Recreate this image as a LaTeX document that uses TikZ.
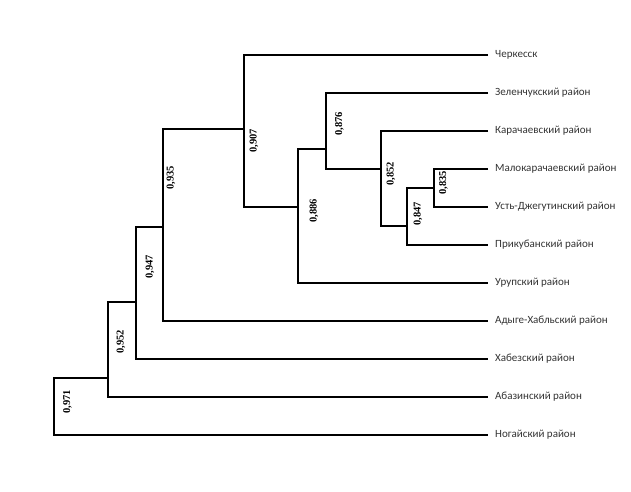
\documentclass[tikz,border=0pt]{standalone}
\usepackage{fontspec}
\setmainfont{Carlito}
\newfontfamily\labfont{Liberation Serif}
\begin{document}
\begin{tikzpicture}[x=1pt,y=-1pt,
  branch/.style={line width=1.4pt,black},
  leaf/.style={anchor=west,inner xsep=7pt,inner ysep=1pt,font=\fontsize{11}{13}\selectfont,text=black!80},
  sim/.style={rotate=90,inner sep=0pt,font=\labfont\bfseries\fontsize{10.5}{12}\selectfont}]
\useasboundingbox (0,0) rectangle (631,491);
% leaves
\node[leaf] (ch) at (488,55) {Черкесск};
\node[leaf] (ze) at (488,93) {Зеленчукский район};
\node[leaf] (ka) at (488,131) {Карачаевский район};
\node[leaf] (mk) at (488,169) {Малокарачаевский район};
\node[leaf] (ud) at (488,207) {Усть-Джегутинский район};
\node[leaf] (pr) at (488,245) {Прикубанский район};
\node[leaf] (ur) at (488,283) {Урупский район};
\node[leaf] (ad) at (488,321) {Адыге-Хабльский район};
\node[leaf] (kh) at (488,359) {Хабезский район};
\node[leaf] (ab) at (488,397) {Абазинский район};
\node[leaf] (no) at (488,435) {Ногайский район};
% internal join points
\coordinate (n835) at (434,188);
\coordinate (n847) at (407,226);
\coordinate (n852) at (381,169);
\coordinate (n876) at (326,149);
\coordinate (n886) at (298,207);
\coordinate (n907) at (244,129);
\coordinate (n935) at (163,227);
\coordinate (n947) at (136,302);
\coordinate (n952) at (108,378);
\coordinate (n971) at (54,435);
% branches
\draw[branch] (mk.west) -| (n835) |- (ud.west);
\draw[branch] (n835) -| (n847) |- (pr.west);
\draw[branch] (ka.west) -| (n852) |- (n847);
\draw[branch] (ze.west) -| (n876) |- (n852);
\draw[branch] (n876) -| (n886) |- (ur.west);
\draw[branch] (ch.west) -| (n907) |- (n886);
\draw[branch] (n907) -| (n935) |- (ad.west);
\draw[branch] (n935) -| (n947) |- (kh.west);
\draw[branch] (n947) -| (n952) |- (ab.west);
\draw[branch] (n952) -| (54,378) -- (n971) -- (no.west);
% similarity labels
\node[sim] (l835) at (443.5,183) {0,835};
\node[sim] (l847) at (418,214) {0,847};
\node[sim] (l852) at (391,174) {0,852};
\node[sim] (l876) at (339.5,124) {0,876};
\node[sim] (l886) at (314,211) {0,886};
\node[sim] (l907) at (254,141) {0,907};
\node[sim] (l935) at (171,178) {0,935};
\node[sim] (l947) at (150,267) {0,947};
\node[sim] (l952) at (121,342) {0,952};
\node[sim] (l971) at (67.5,402) {0,971};
\end{tikzpicture}
\end{document}
